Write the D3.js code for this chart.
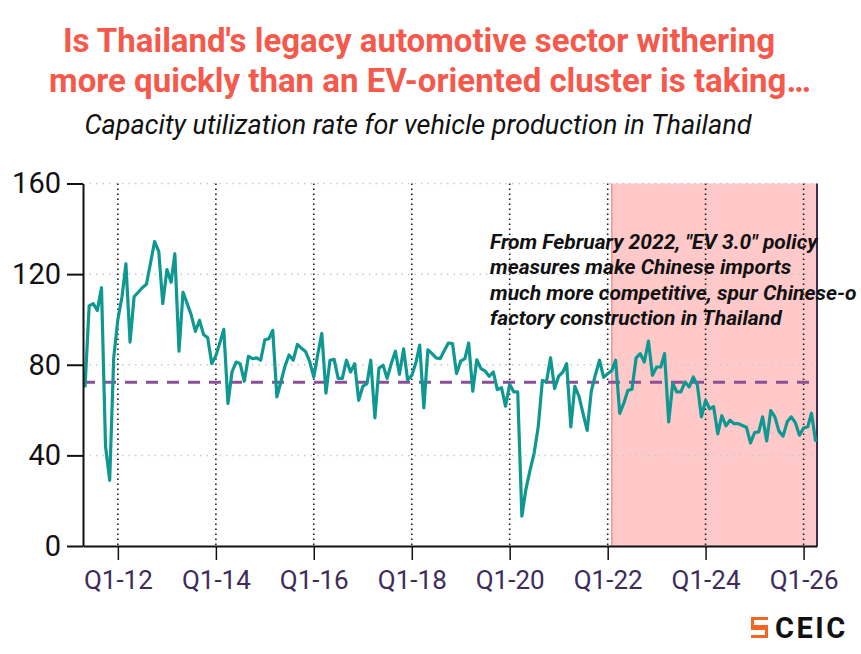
<!DOCTYPE html>
<html>
<head>
<meta charset="utf-8">
<script src="https://cdn.jsdelivr.net/npm/d3@7"></script>
<style>
    body { margin: 0; background: #fff; }
    svg { display: block; font-family: Roboto, "Noto Sans", sans-serif; }
</style>
</head>
<body>
<svg id="chart" width="861" height="654"></svg>
<script>
// Monthly capacity utilization (%), first value = May 2011
const startMonth = "2011-05-01";
const utilization = [
    70, 106, 107, 104, 114, 44, 29, 83,                                   // 2011 May-Dec
    100, 110, 124.5, 90, 110, 112, 114, 115.5, 125, 134.4, 130, 107,      // 2012
    122, 116.4, 129, 86, 112, 107, 102, 94.7, 99.6, 93.4, 91.9, 80.5,     // 2013
    84, 90, 95.6, 62.9, 76.8, 81.2, 80.5, 72.7, 83.7, 82.7, 83, 82,       // 2014
    91, 91.5, 95.2, 65.8, 72.5, 79.5, 84.3, 82, 89, 87.3, 85.8, 81.5,     // 2015
    74.5, 85, 93.8, 67.5, 82, 82.4, 74, 74, 82, 76.8, 80.5, 64.3,         // 2016
    70.5, 71.7, 82, 56.5, 78.5, 79.8, 74, 80.5, 86, 75.8, 87, 73.3,       // 2017
    75.3, 81, 88.7, 61, 86.6, 84.9, 83, 82.7, 86.3, 89.6, 89.3, 76.1,     // 2018
    81.6, 82.7, 89.6, 68.3, 82.2, 78.3, 77.3, 74.9, 76.8, 69, 69.9, 61.7, // 2019
    71.4, 68, 68, 13.2, 25, 33.5, 40.8, 52.6, 73.1, 72.4, 83.1, 69.5,     // 2020
    75, 76.8, 80.5, 52.6, 70.5, 66, 58.5, 51, 68.5, 75.5, 82, 74.5,       // 2021
    76, 77.5, 82, 58.5, 63, 68.7, 69.2, 83, 84.9, 81.2, 90.4, 75.3,       // 2022
    79, 79, 84.9, 54.8, 71.7, 68, 68, 72.4, 70.2, 74.6, 71, 57,           // 2023
    64.3, 60.5, 61.5, 49.5, 57.5, 53, 55.5, 54, 54, 53.2, 52.4, 45.5,     // 2024
    50.1, 50.4, 57, 46.4, 59.8, 57, 50.7, 48.5, 54.8, 57, 54.4, 48.9,     // 2025
    52.1, 52.6, 58.6, 46                                                  // 2026 Jan-Apr
];
const averageRate = 72.3;
const tickYears = [2012, 2014, 2016, 2018, 2020, 2022, 2024, 2026];
const yTicks = [0, 40, 80, 120, 160];
const xDomain = ["2011-04-16", "2026-04-11"];
const policyStart = "2022-02-01";

const titleLines = [
    "Is Thailand's legacy automotive sector withering",
    "more quickly than an EV-oriented cluster is taking\u2026"
];
const subtitle = "Capacity utilization rate for vehicle production in Thailand";
// the third line is cut at the picture edge in the original
const noteLines = [
    "From February 2022, \"EV 3.0\" policy",
    "measures make Chinese imports",
    "much more competitive, spur Chinese-o",
    "factory construction in Thailand"
];

const svg = d3.select("#chart");
const parse = d3.utcParse("%Y-%m-%d");
const start = parse(startMonth);

const series = utilization.map((v, i) => ({
    date: d3.utcMonth.offset(start, i),
    value: v
}));

const plotLeft = 83, plotRight = 817, plotTop = 183.5, plotBottom = 546;

const x = d3.scaleUtc()
    .domain(xDomain.map(parse))
    .range([plotLeft, plotRight]);
const y = d3.scaleLinear()
    .domain([0, 160])
    .range([plotBottom, plotTop]);

const tickDates = tickYears.map(yr => new Date(Date.UTC(yr, 0, 1)));

// Shaded EV 3.0 period
const shadeX = x(parse(policyStart));
svg.append("rect")
    .attr("x", shadeX)
    .attr("y", y(160))
    .attr("width", plotRight - shadeX)
    .attr("height", y(0) - y(160))
    .attr("fill", "#ffc9c9");
svg.append("line")
    .attr("x1", shadeX).attr("x2", shadeX)
    .attr("y1", y(160)).attr("y2", y(0))
    .attr("stroke", "#f5908a")
    .attr("stroke-width", 1.5);

// Horizontal grid
svg.append("g")
    .selectAll("line")
    .data(yTicks.filter(d => d > 0))
    .join("line")
    .attr("x1", plotLeft).attr("x2", plotRight)
    .attr("y1", d => y(d)).attr("y2", d => y(d))
    .attr("stroke", "#c9c9c9")
    .attr("stroke-width", 1.5)
    .attr("stroke-dasharray", "1.5,5");

// Vertical grid
svg.append("g")
    .selectAll("line")
    .data(tickDates)
    .join("line")
    .attr("x1", d => x(d)).attr("x2", d => x(d))
    .attr("y1", y(160)).attr("y2", y(0))
    .attr("stroke", "#1a1a1a")
    .attr("stroke-width", 1.6)
    .attr("stroke-dasharray", "1.6,3.4");

// Right border
svg.append("line")
    .attr("x1", plotRight).attr("x2", plotRight)
    .attr("y1", y(160)).attr("y2", y(0))
    .attr("stroke", "#3d2c5a")
    .attr("stroke-width", 2);

// Average line
svg.append("line")
    .attr("x1", plotLeft).attr("x2", plotRight)
    .attr("y1", y(averageRate)).attr("y2", y(averageRate))
    .attr("stroke", "#8b4f98")
    .attr("stroke-width", 3)
    .attr("stroke-dasharray", "12,9");

// Series
const line = d3.line()
    .x(d => x(d.date))
    .y(d => y(d.value));

svg.append("path")
    .datum(series)
    .attr("d", line)
    .attr("fill", "none")
    .attr("stroke", "#0f9891")
    .attr("stroke-width", 3.2)
    .attr("stroke-linejoin", "round");

// Y axis
const yAxis = svg.append("g")
    .attr("transform", `translate(${plotLeft},0)`)
    .call(d3.axisLeft(y).tickValues(yTicks).tickSize(16).tickSizeOuter(0).tickPadding(6));
yAxis.select(".domain").attr("stroke", "#111").attr("stroke-width", 2);
yAxis.selectAll(".tick line").attr("stroke", "#111").attr("stroke-width", 2);
yAxis.selectAll("text")
    .attr("font-size", 29)
    .attr("font-family", "Roboto, sans-serif")
    .attr("fill", "#111");

// X axis
const xAxis = svg.append("g")
    .attr("transform", `translate(0,${plotBottom})`)
    .call(d3.axisBottom(x)
        .tickValues(tickDates)
        .tickFormat(d => "Q1-" + d3.utcFormat("%y")(d))
        .tickSize(14)
        .tickSizeOuter(0)
        .tickPadding(11));
xAxis.select(".domain").attr("stroke", "#111").attr("stroke-width", 2);
xAxis.selectAll(".tick line").attr("stroke", "#111").attr("stroke-width", 1.5);
xAxis.selectAll("text")
    .attr("font-size", 26)
    .attr("font-family", "Roboto, sans-serif")
    .attr("fill", "#3d2c5a");

// Titles
svg.append("text")
    .attr("x", 419).attr("y", 52)
    .attr("text-anchor", "middle")
    .attr("font-size", 33)
    .attr("font-weight", "bold")
    .attr("fill", "#f4594b")
    .text(titleLines[0]);
svg.append("text")
    .attr("x", 430).attr("y", 92)
    .attr("text-anchor", "middle")
    .attr("font-size", 33)
    .attr("font-weight", "bold")
    .attr("fill", "#f4594b")
    .text(titleLines[1]);
svg.append("text")
    .attr("x", 418).attr("y", 134)
    .attr("text-anchor", "middle")
    .attr("font-size", 27)
    .attr("font-style", "italic")
    .attr("fill", "#111")
    .text(subtitle);

// Annotation
svg.append("g")
    .selectAll("text")
    .data(noteLines)
    .join("text")
    .attr("x", 490)
    .attr("y", (d, i) => 248.5 + i * 25.5)
    .attr("font-size", 21)
    .attr("font-weight", "bold")
    .attr("font-style", "italic")
    .attr("fill", "#111")
    .text(d => d);

// CEIC logo
const logo = svg.append("g").attr("transform", "translate(751,617)");
logo.append("rect").attr("width", 17).attr("height", 21).attr("fill", "#f26522");
logo.append("rect").attr("x", 3).attr("y", 3).attr("width", 14).attr("height", 5).attr("fill", "#fff");
logo.append("rect").attr("x", 0).attr("y", 13).attr("width", 14).attr("height", 5).attr("fill", "#fff");
logo.append("rect").attr("x", 3).attr("y", 8).attr("width", 11).attr("height", 5).attr("fill", "#f26522");
svg.append("text")
    .attr("x", 775).attr("y", 638)
    .attr("font-size", 29)
    .attr("font-weight", "bold")
    .attr("letter-spacing", 2.5)
    .attr("fill", "#111")
    .text("CEIC");
</script>
</body>
</html>
